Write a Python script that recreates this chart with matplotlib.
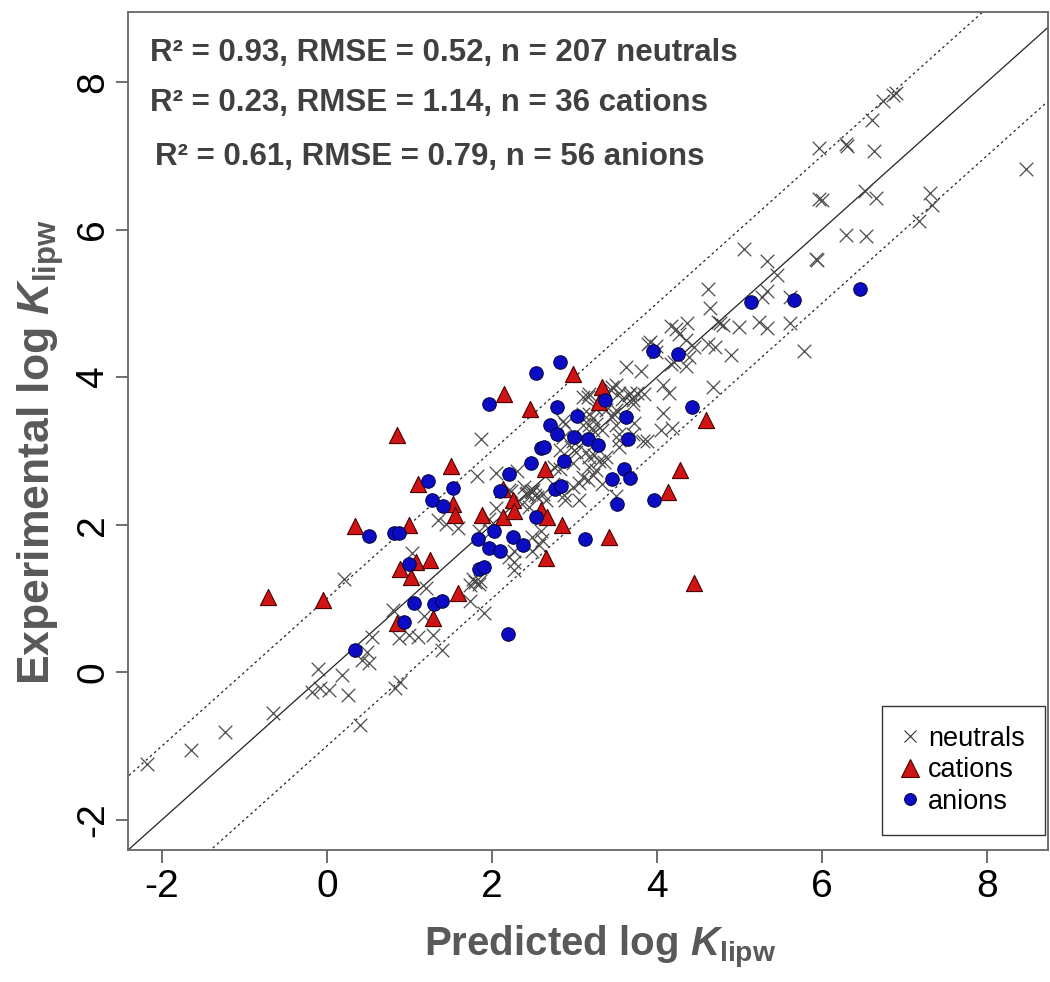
import matplotlib.pyplot as plt
from matplotlib.lines import Line2D

plt.rcParams['font.family'] = ['Liberation Sans', 'DejaVu Sans']
plt.rcParams['axes.unicode_minus'] = False
plt.rcParams['mathtext.fontset'] = 'custom'
plt.rcParams['mathtext.rm'] = 'Liberation Sans:bold'
plt.rcParams['mathtext.bf'] = 'Liberation Sans:bold'
plt.rcParams['mathtext.it'] = 'Liberation Sans:italic:bold'

# neutrals: predicted / experimental log Klipw
neutral_pred = [
    -2.18, -1.65, -1.24, -0.65, -0.11, -0.18, -0.08, 0.02, 0.18, 0.26, 0.40, 0.21,
    0.55, 0.49, 0.42, 0.51, 0.89, 0.83, 0.87, 0.99, 1.10, 0.80, 1.03, 1.20, 1.18,
    1.28, 1.40, 1.87, 1.82, 2.05, 2.30, 1.35, 1.59, 1.77, 1.84, 1.74, 1.90, 1.73,
    2.27, 2.27, 2.59, 2.61, 2.49, 2.41, 2.55, 2.82, 2.88, 3.06, 3.22, 3.16, 3.46,
    3.62, 3.81, 3.89, 3.54, 3.83, 4.07, 4.18, 3.30, 3.38, 3.22, 3.10, 3.46, 3.38,
    3.71, 2.98, 3.18, 2.74, 2.65, 2.89, 1.84, 1.99, 2.57, 2.27, 2.21, 2.49, 2.21,
    2.05, 3.18, 3.50, 3.54, 3.76, 3.84, 3.18, 3.26, 2.89, 3.48, 3.26, 3.34, 3.50,
    3.72, 3.54, 3.71, 3.88, 3.10, 2.86, 2.96, 3.14, 3.24, 3.36, 3.54, 2.98, 2.75,
    2.82, 3.18, 3.26, 3.10, 3.16, 3.34, 2.98, 2.39, 3.06, 3.50, 2.45, 3.10, 2.86,
    2.49, 2.37, 1.97, 1.44, 5.97, 6.29, 6.31, 6.61, 6.63, 6.74, 6.86, 6.90, 8.48,
    5.97, 6.00, 6.52, 6.66, 7.31, 7.33, 7.18, 6.29, 6.53, 5.06, 5.34, 5.93, 5.94,
    5.46, 4.62, 5.34, 5.28, 4.64, 5.61, 4.17, 4.37, 4.74, 4.80, 4.99, 5.24, 5.34,
    5.61, 5.78, 3.99, 4.27, 4.35, 4.62, 4.70, 4.90, 4.45, 4.17, 4.35, 4.07, 4.15,
    4.68, 4.05, 4.39, 4.21, 3.44, 3.71, 3.10, 3.22, 3.18, 3.50, 3.99,
    2.47, 2.52, 2.50, 2.43, 3.58, 3.66, 3.68, 1.86, 1.80, 3.92, 4.76, 4.23, 2.23,
    2.62, 3.02,
]
neutral_exp = [
    -1.25, -1.06, -0.81, -0.55, 0.04, -0.27, -0.22, -0.24, -0.04, -0.31, -0.72, 1.26,
    0.48, 0.28, 0.16, 0.13, -0.13, -0.22, 0.46, 0.51, 0.48, 0.84, 1.62, 1.14, 0.76,
    0.50, 0.30, 3.16, 2.66, 2.70, 2.73, 2.07, 1.96, 1.27, 1.20, 1.18, 0.80, 0.96,
    1.49, 1.39, 1.92, 1.79, 2.44, 2.42, 2.38, 3.01, 2.40, 2.56, 2.68, 3.73, 3.87,
    4.14, 4.09, 4.45, 3.23, 3.14, 3.51, 3.31, 2.87, 2.92, 3.28, 3.35, 3.46, 3.55,
    3.64, 3.14, 2.92, 2.55, 2.33, 2.33, 1.92, 1.92, 1.72, 1.65, 1.56, 1.65, 2.47,
    2.23, 3.77, 3.90, 3.78, 3.78, 3.77, 3.50, 3.57, 3.37, 3.50, 3.37, 3.28, 3.35,
    3.38, 3.15, 3.23, 3.14, 3.19, 3.19, 3.05, 2.99, 2.94, 2.85, 3.05, 2.83, 2.78,
    2.76, 2.78, 2.74, 2.65, 2.60, 2.55, 2.51, 2.51, 2.33, 2.39, 2.24, 3.73, 3.41,
    1.83, 2.28, 2.08, 2.01, 7.10, 7.16, 7.13, 7.48, 7.07, 7.75, 7.82, 7.85, 6.82,
    6.41, 6.40, 6.53, 6.43, 6.50, 6.33, 6.12, 5.93, 5.92, 5.74, 5.57, 5.60, 5.59,
    5.38, 5.20, 5.17, 5.09, 4.94, 5.09, 4.69, 4.74, 4.75, 4.71, 4.68, 4.75, 4.66,
    4.73, 4.36, 4.42, 4.58, 4.50, 4.45, 4.41, 4.30, 4.41, 4.18, 4.15, 3.90, 3.78,
    3.86, 3.28, 4.27, 4.20, 3.82, 3.69, 3.50, 3.44, 3.35, 3.55, 4.34,
    2.46, 2.40, 2.47, 2.43, 3.70, 3.76, 3.79, 1.24, 1.22, 4.47, 4.73, 4.65, 2.45,
    2.42, 2.98,
]

cation_pred = [
    -0.71, -0.05, 0.34, 0.85, 0.99, 0.89, 1.08, 1.25, 1.02, 0.85, 1.29, 1.59,
    1.11, 1.51, 1.53, 1.55, 1.88, 2.15, 2.46, 2.13, 2.25, 2.13, 2.27, 2.60,
    2.67, 2.64, 2.85, 2.65, 2.98, 3.34, 3.30, 3.42, 4.13, 4.28, 4.60, 4.45,
]
cation_exp = [
    1.02, 0.98, 1.98, 3.21, 2.00, 1.40, 1.49, 1.52, 1.29, 0.67, 0.74, 1.07,
    2.55, 2.80, 2.28, 2.13, 2.13, 3.77, 3.57, 2.49, 2.33, 2.11, 2.19, 2.20,
    2.11, 2.75, 2.00, 1.55, 4.04, 3.86, 3.66, 1.83, 2.44, 2.74, 3.42, 1.21,
]

anion_pred = [
    2.83, 2.53, 1.97, 3.95, 4.26, 2.79, 3.03, 2.71, 2.79, 3.37, 3.62, 3.00, 3.16,
    3.29, 3.65, 2.59, 2.63, 2.88, 2.48, 3.60, 3.68, 3.45, 2.21, 1.22, 1.53, 2.10,
    2.77, 2.84, 1.27, 1.41, 3.52, 3.97, 2.54, 0.81, 0.87, 2.03, 1.83, 2.25, 1.97,
    2.10, 2.38, 3.13, 1.84, 1.91, 1.00, 1.06, 1.30, 1.40, 0.93, 2.20, 0.51, 0.34,
    6.46, 5.14, 5.66, 4.42,
]
anion_exp = [
    4.21, 4.05, 3.63, 4.35, 4.32, 3.59, 3.48, 3.35, 3.23, 3.69, 3.46, 3.19, 3.16,
    3.08, 3.16, 3.04, 3.05, 2.87, 2.84, 2.75, 2.63, 2.62, 2.69, 2.59, 2.50, 2.46,
    2.48, 2.53, 2.34, 2.26, 2.28, 2.34, 2.10, 1.89, 1.89, 1.91, 1.81, 1.83, 1.69,
    1.65, 1.72, 1.81, 1.40, 1.42, 1.47, 0.94, 0.92, 0.97, 0.68, 0.52, 1.85, 0.30,
    5.20, 5.02, 5.04, 3.60,
]

stats_lines = [
    'R² = 0.93, RMSE = 0.52, n = 207 neutrals',
    'R² = 0.23, RMSE = 1.14, n = 36 cations',
    'R² = 0.61, RMSE = 0.79, n = 56 anions',
]
ticks = [-2, 0, 2, 4, 6, 8]
lims = (-2.41, 8.74), (-2.41, 8.95)

fig = plt.figure(figsize=(10.5, 9.82), dpi=100)
ax = fig.add_axes([0.122, 0.1344, 0.876, 0.8534])

# 1:1 line and +/- 1 log unit
lx = [-4, 11]
ax.plot(lx, lx, color='#222222', lw=0.9, zorder=1)
ax.plot(lx, [v + 1 for v in lx], color='#222222', lw=0.9, ls=(0, (2, 2.5)), zorder=1)
ax.plot(lx, [v - 1 for v in lx], color='#222222', lw=0.9, ls=(0, (2, 2.5)), zorder=1)

ax.scatter(neutral_pred, neutral_exp, marker='x', s=95, c='#4a4a4a', linewidths=0.9, zorder=2)
ax.scatter(cation_pred, cation_exp, marker='^', s=135, c='#D01414', edgecolors='#4a0000',
           linewidths=0.8, zorder=3)
ax.scatter(anion_pred, anion_exp, marker='o', s=95, c='#0C0CC4', edgecolors='#00003a',
           linewidths=0.7, zorder=4)

ax.set_xlim(*lims[0])
ax.set_ylim(*lims[1])
ax.set_xticks(ticks)
ax.set_yticks(ticks)
ax.tick_params(direction='out', length=9, width=1.2, color='#555555',
               labelsize=28, pad=5)
ax.tick_params(axis='y', pad=3)
for lbl in ax.get_yticklabels():
    lbl.set_rotation(90)
    lbl.set_va('center')
for sp in ax.spines.values():
    sp.set_color('#666666')
    sp.set_linewidth(1.3)

ax.set_xlabel(r'Predicted log $\mathit{K}_{\mathrm{lipw}}$', fontsize=29,
              fontweight='bold', color='#595959')
ax.set_ylabel(r'Experimental log $\mathit{K}_{\mathrm{lipw}}$', fontsize=32,
              fontweight='bold', color='#595959')
ax.xaxis.set_label_coords(0.513, -0.088)
ax.yaxis.set_label_coords(-0.068, 0.475)

for i, (txt, xx) in enumerate(zip(stats_lines, [-2.14, -2.14, -2.08])):
    ax.text(xx, [8.40, 7.71, 6.98][i], txt, fontsize=22.5, fontweight='bold',
            color='#404040', va='center', ha='left')

handles = [
    Line2D([], [], ls='none', marker='x', ms=9, mew=0.8, color='#333333'),
    Line2D([], [], ls='none', marker='^', ms=13, mfc='#D01414', mec='#4a0000', mew=0.8),
    Line2D([], [], ls='none', marker='o', ms=8.5, mfc='#0C0CC4', mec='#00003a', mew=0.7),
]
leg = ax.legend(handles, ['neutrals', 'cations', 'anions'], loc='lower right',
                bbox_to_anchor=(0.9967, 0.0179), borderaxespad=0,
                fontsize=19.5, fancybox=False, edgecolor='#333333', framealpha=1,
                handletextpad=0.35, labelspacing=0.2, borderpad=0.75,
                handlelength=0.6)
leg.get_frame().set_linewidth(1.0)

fig.savefig('out.png', dpi=100)
